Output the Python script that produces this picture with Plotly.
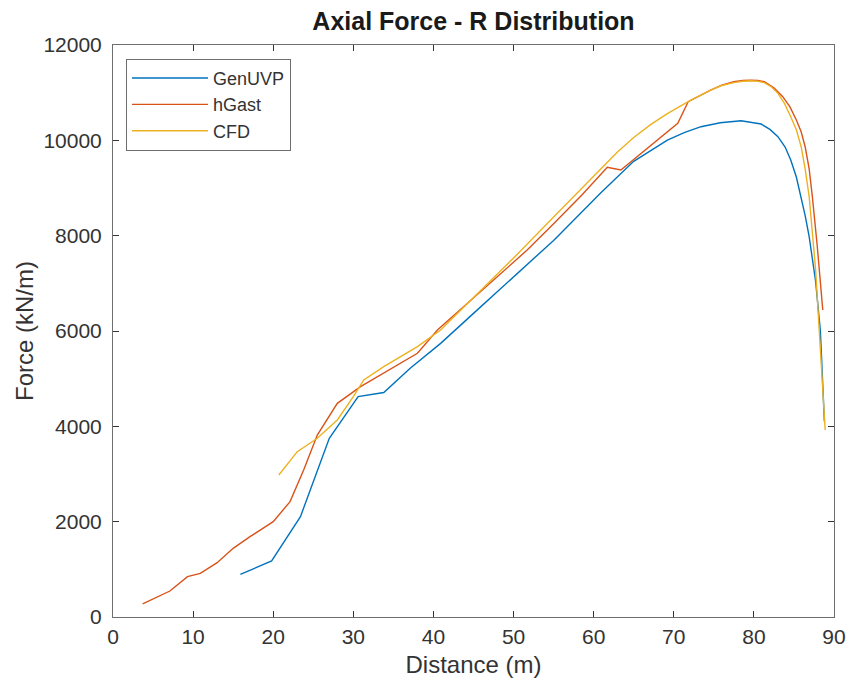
import plotly.graph_objects as go

# ---- data ----
genuvp_x = [15.9, 19.8, 23.4, 27.0, 30.6, 33.8, 37.1, 40.9, 45.0, 50.0, 55.0, 60.9, 65.0,
            69.2, 71.3, 73.4, 75.8, 78.4, 80.9, 82.0, 83.0, 83.9, 84.6, 85.3, 85.9, 86.4,
            86.9, 87.7, 88.3, 88.8]
genuvp_y = [895, 1175, 2105, 3750, 4622, 4710, 5217, 5741, 6370, 7130, 7900, 8900, 9560,
            10006, 10160, 10286, 10370, 10412, 10342, 10230, 10076, 9860, 9587, 9230, 8817, 8420,
            7978, 7050, 6000, 4100]

hgast_x = [3.7, 5.0, 7.1, 9.3, 10.9, 13.0, 15.0, 17.1, 20.0, 22.1, 23.8, 25.5, 28.0, 30.9,
           33.8, 36.7, 38.0, 40.5, 44.2, 48.0, 51.7, 55.0, 58.5, 61.7, 63.4, 70.5, 71.8,
           74.6, 76.0, 77.5, 78.6, 79.6, 80.5, 81.3, 82.5, 83.6, 84.5, 85.3, 85.9, 86.4,
           86.9, 87.3, 87.9, 88.6]
hgast_y = [273, 378, 545, 846, 916, 1140, 1441, 1685, 2000, 2420, 3084, 3818, 4483, 4832,
           5112, 5391, 5532, 6021, 6580, 7139, 7699, 8250, 8850, 9433, 9377, 10357, 10811,
           11055, 11160, 11230, 11255, 11260, 11255, 11230, 11100, 10915, 10700, 10426, 10180, 9866,
           9400, 8817, 7800, 6440]

cfd_x = [20.7, 23.0, 25.5, 28.0, 30.0, 31.3, 33.8, 38.0, 40.9, 45.0, 50.0, 55.0, 60.9,
         63.0, 65.0, 67.1, 69.2, 71.8, 74.6, 76.0, 77.5, 78.6, 79.6, 80.5, 81.3, 82.2, 83.0, 83.8,
         84.6, 85.3, 85.9, 86.4, 86.9, 87.7, 88.9]
cfd_y = [2979, 3468, 3749, 4133, 4622, 4972, 5251, 5671, 6021, 6700, 7530, 8390, 9400,
         9760, 10060, 10330, 10560, 10811, 11055, 11150, 11210, 11240, 11250, 11240, 11210, 11120,
         10986, 10780, 10496, 10220, 9866, 9400, 8817, 7300, 3923]

series_names = ["GenUVP", "hGast", "CFD"]
series_colors = ["#0072BD", "#D95319", "#EDB120"]

x_ticks = [0, 10, 20, 30, 40, 50, 60, 70, 80, 90]
y_ticks = [0, 2000, 4000, 6000, 8000, 10000, 12000]

FONT = "Liberation Sans, Arial, sans-serif"

fig = go.Figure()
for name, xs, ys, col in zip(series_names,
                             [genuvp_x, hgast_x, cfd_x],
                             [genuvp_y, hgast_y, cfd_y],
                             series_colors):
    fig.add_trace(go.Scatter(x=xs, y=ys, mode="lines", name=name,
                             line=dict(color=col, width=1.4)))

axis_common = dict(
    showgrid=False, zeroline=False, showline=True, linecolor="#6e6e6e", linewidth=1,
    mirror="ticks", ticks="inside", ticklen=6, tickwidth=1, tickcolor="#333333",
    tickfont=dict(family=FONT, size=21, color="#333333"), automargin=False,
)

fig.update_layout(
    width=849, height=687,
    margin=dict(l=113, r=15, t=45, b=70),
    paper_bgcolor="white", plot_bgcolor="white",
    title=dict(text="<b>Axial Force - R Distribution</b>", x=0.5, xanchor="center",
               xref="paper", y=1 - 21 / 687, yref="container", yanchor="middle",
               font=dict(family=FONT, size=25, color="#1a1a1a")),
    xaxis=dict(range=[0, 90], tickvals=x_ticks, ticktext=[str(v) for v in x_ticks],
               ticklabelstandoff=1,
               title=dict(text="Distance (m)", standoff=8,
                          font=dict(family=FONT, size=24, color="#333333")),
               **axis_common),
    yaxis=dict(range=[0, 12000], tickvals=y_ticks, ticktext=[str(v) for v in y_ticks],
               ticklabelstandoff=6,
               title=dict(text="Force (kN/m)", standoff=2,
                          font=dict(family=FONT, size=24, color="#333333")),
               **axis_common),
    legend=dict(x=0.018, y=0.976, xanchor="left", yanchor="top",
                bgcolor="white", bordercolor="#6e6e6e", borderwidth=1,
                font=dict(family=FONT, size=18, color="#333333"),
                itemwidth=76, tracegroupgap=0),
    showlegend=True,
)

fig.write_html("out.html")
